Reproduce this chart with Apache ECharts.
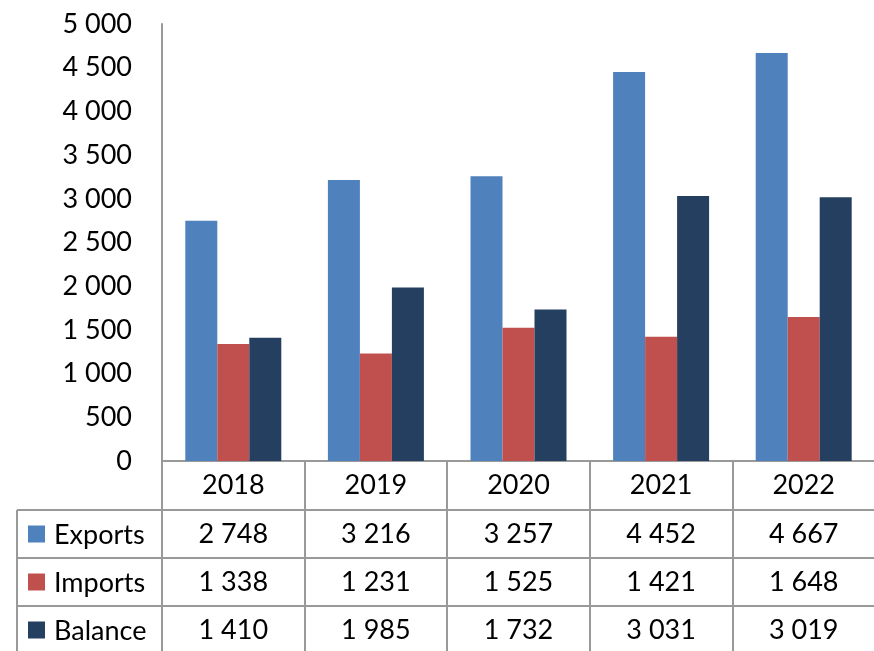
<!DOCTYPE html>
<html>
<head>
<meta charset="utf-8">
<script src="https://cdn.jsdelivr.net/npm/echarts@6/dist/echarts.min.js"></script>
<style>
  html, body { margin: 0; padding: 0; background: #fff; }
  #chart { width: 874px; height: 651px; }
</style>
</head>
<body>
<div id="chart"></div>
<script>
// Yearly trade figures
const years = ['2018', '2019', '2020', '2021', '2022'];
const seriesNames = ['Exports', 'Imports', 'Balance'];
const exportsData = [2748, 3216, 3257, 4452, 4667];
const importsData = [1338, 1231, 1525, 1421, 1648];
const balanceData = [1410, 1985, 1732, 3031, 3019];
const yTicks = [0, 500, 1000, 1500, 2000, 2500, 3000, 3500, 4000, 4500, 5000];

const colors = ['#4F81BD', '#C0504D', '#243F60'];
const lineColor = '#999999';
const fontFamily = 'Lato, "Open Sans", sans-serif';
const fontSize = 27;

// Table geometry (rows under the plot)
const headerTop = 461;
const rowTops = [510, 558, 606];
const rowHeight = 48;

// Thousands separated by a space: 2748 -> "2 748"
function fmt(v) {
  return String(v).replace(/\B(?=(\d{3})+(?!\d))/g, ' ');
}

const rows = [exportsData, importsData, balanceData];

const chart = echarts.init(document.getElementById('chart'), null, { renderer: 'canvas' });

// Category axes: the first carries the year header and the table's vertical
// rules (ticks at category boundaries); the others print one data row each.
const xAxes = [{
  type: 'category',
  data: years,
  position: 'bottom',
  axisLine: { show: true, lineStyle: { color: lineColor, width: 2 } },
  axisTick: { show: true, alignWithLabel: false, length: 191, lineStyle: { color: lineColor, width: 2 } },
  axisLabel: {
    margin: 0, color: '#000', fontFamily, fontSize,
    lineHeight: 48, verticalAlign: 'top'
  }
}];
rows.forEach((row, r) => {
  xAxes.push({
    type: 'category',
    data: years,
    position: 'bottom',
    offset: rowTops[r] - headerTop,
    axisLine: { show: false },
    axisTick: { show: false },
    axisLabel: {
      margin: 0, color: '#000', fontFamily, fontSize,
      lineHeight: rowHeight, verticalAlign: 'top',
      formatter: (val, idx) => fmt(row[idx])
    }
  });
});

const seriesData = [exportsData, importsData, balanceData];

// Series-name column: colour key plus name, one per table row
const keyGraphics = [];
seriesNames.forEach((name, i) => {
  const cy = rowTops[i] + rowHeight / 2;
  keyGraphics.push({
    type: 'rect',
    shape: { x: 28, y: cy - 8.5, width: 17, height: 17 },
    style: { fill: colors[i] }
  });
  keyGraphics.push({
    type: 'text',
    x: 54,
    y: cy + 1,
    style: {
      text: name, fill: '#000',
      font: fontSize + 'px ' + fontFamily,
      textAlign: 'left', textVerticalAlign: 'middle'
    }
  });
});

const option = {
  animation: false,
  color: colors,
  grid: {
    left: 162, top: 24, width: 713, height: 437,
    containLabel: false, outerBoundsMode: 'none'
  },
  xAxis: xAxes,
  yAxis: {
    type: 'value',
    min: yTicks[0],
    max: yTicks[yTicks.length - 1],
    interval: yTicks[1] - yTicks[0],
    axisLine: { show: true, lineStyle: { color: lineColor, width: 2 } },
    axisTick: { show: false },
    splitLine: { show: false },
    axisLabel: {
      margin: 30, color: '#000', fontFamily, fontSize,
      formatter: v => fmt(v)
    }
  },
  series: seriesNames.map((name, i) => ({
    name,
    type: 'bar',
    xAxisIndex: 0,
    barWidth: 32,
    barGap: '0%',
    data: seriesData[i],
    itemStyle: { color: colors[i] }
  })),
  graphic: [
    // horizontal rules of the data table
    ...rowTops.map(y => ({
      type: 'line', shape: { x1: 17, y1: y, x2: 874, y2: y },
      style: { stroke: lineColor, lineWidth: 2 }
    })),
    // left edge of the series-name column
    { type: 'line', shape: { x1: 17, y1: rowTops[0], x2: 17, y2: 651 }, style: { stroke: lineColor, lineWidth: 2 } },
    ...keyGraphics
  ]
};

chart.setOption(option);
</script>
</body>
</html>
